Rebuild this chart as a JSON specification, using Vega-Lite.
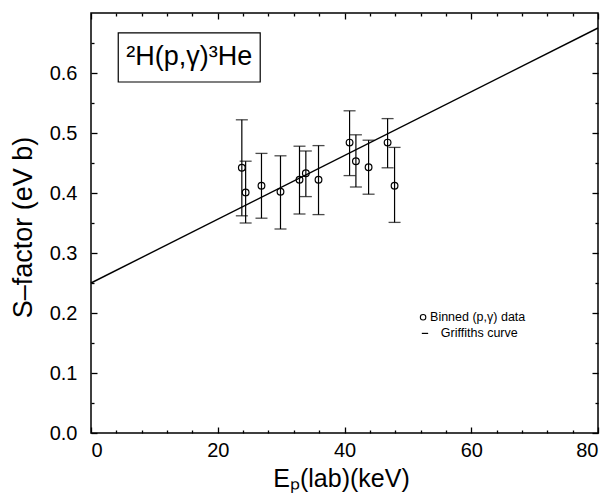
{
  "$schema": "https://vega.github.io/schema/vega-lite/v6.json",
  "width": 507,
  "height": 420,
  "autosize": "none",
  "padding": {"left": 91, "top": 13, "right": 12, "bottom": 63},
  "background": "white",
  "config": {
    "view": {"stroke": "black", "strokeWidth": 1.5},
    "font": "Liberation Sans",
    "axis": {
      "domain": false,
      "grid": false,
      "tickColor": "black",
      "tickWidth": 1.3,
      "labelColor": "black",
      "titleColor": "black",
      "labelFont": "Liberation Sans",
      "titleFont": "Liberation Sans",
      "labelFontSize": 20,
      "titleFontSize": 25,
      "titleFontWeight": "normal"
    }
  },
  "datasets": {
    "bins": [
      {"E": 23.8, "S": 0.442, "lo": 0.362, "hi": 0.522},
      {"E": 24.4, "S": 0.401, "lo": 0.350, "hi": 0.453},
      {"E": 26.9, "S": 0.412, "lo": 0.358, "hi": 0.466},
      {"E": 29.9, "S": 0.402, "lo": 0.340, "hi": 0.462},
      {"E": 32.9, "S": 0.422, "lo": 0.365, "hi": 0.478},
      {"E": 33.9, "S": 0.433, "lo": 0.394, "hi": 0.470},
      {"E": 35.9, "S": 0.422, "lo": 0.364, "hi": 0.479},
      {"E": 40.8, "S": 0.484, "lo": 0.429, "hi": 0.537},
      {"E": 41.8, "S": 0.453, "lo": 0.410, "hi": 0.497},
      {"E": 43.8, "S": 0.443, "lo": 0.398, "hi": 0.488},
      {"E": 46.8, "S": 0.484, "lo": 0.442, "hi": 0.524},
      {"E": 47.9, "S": 0.412, "lo": 0.351, "hi": 0.476}
    ],
    "curve": [
      {"E": 0, "S": 0.25},
      {"E": 80, "S": 0.675}
    ],
    "box": [
      {"x1": 4.3, "x2": 26.7, "y1": 0.585, "y2": 0.667, "xc": 15.5, "yc": 0.627, "label": "²H(p,γ)³He"}
    ],
    "legend": [
      {"sx": 52.4, "sx2": 52.4, "y": 0.193, "tx": 53.5, "kind": "point", "label": "Binned (p,γ) data"},
      {"sx": 52.2, "sx2": 53.2, "y": 0.166, "tx": 55.2, "kind": "line", "label": "Griffiths curve"}
    ]
  },
  "resolve": {"axis": {"x": "independent", "y": "independent"}},
  "layer": [
    {
      "data": {"name": "curve"},
      "mark": {"type": "line", "color": "black", "strokeWidth": 1.4},
      "encoding": {
        "x": {"field": "E", "type": "quantitative", "scale": {"domain": [0, 80], "nice": false},
          "axis": {"orient": "bottom", "values": [0, 20, 40, 60, 80], "tickSize": -6, "labelPadding": 13,
            "title": "Eₚ(lab)(keV)", "titleX": 250, "titleY": 53, "titleBaseline": "alphabetic", "titleAnchor": "middle"}},
        "y": {"field": "S", "type": "quantitative", "scale": {"domain": [0, 0.7], "nice": false, "zero": true},
          "axis": {"orient": "left", "values": [0, 0.1, 0.2, 0.3, 0.4, 0.5, 0.6], "format": ".1f", "tickSize": -6, "labelPadding": 20,
            "title": "S–factor (eV b)", "titleX": -68, "titleY": 214, "titleAngle": -90, "titleBaseline": "middle", "titleAlign": "center", "titleFontSize": 27}}
      }
    },
    {
      "data": {"name": "bins"},
      "mark": {"type": "rule", "color": "black", "strokeWidth": 1.2},
      "encoding": {
        "x": {"field": "E", "type": "quantitative",
          "axis": {"orient": "bottom", "values": [4, 8, 12, 16, 24, 28, 32, 36, 44, 48, 52, 56, 64, 68, 72, 76], "tickSize": -3, "labels": false, "title": null}},
        "y": {"field": "lo", "type": "quantitative",
          "axis": {"orient": "left", "values": [0.05, 0.15, 0.25, 0.35, 0.45, 0.55, 0.65], "tickSize": -3, "labels": false, "title": null}},
        "y2": {"field": "hi"}
      }
    },
    {
      "data": {"name": "bins"},
      "mark": {"type": "tick", "orient": "horizontal", "color": "black", "size": 12, "thickness": 1.3},
      "encoding": {
        "x": {"field": "E", "type": "quantitative",
          "axis": {"orient": "top", "values": [0, 20, 40, 60, 80], "tickSize": -6, "labels": false, "title": null}},
        "y": {"field": "lo", "type": "quantitative",
          "axis": {"orient": "right", "values": [0, 0.1, 0.2, 0.3, 0.4, 0.5, 0.6], "tickSize": -6, "labels": false, "title": null}}
      }
    },
    {
      "data": {"name": "bins"},
      "mark": {"type": "tick", "orient": "horizontal", "color": "black", "size": 12, "thickness": 1.3},
      "encoding": {
        "x": {"field": "E", "type": "quantitative",
          "axis": {"orient": "top", "values": [4, 8, 12, 16, 24, 28, 32, 36, 44, 48, 52, 56, 64, 68, 72, 76], "tickSize": -3, "labels": false, "title": null}},
        "y": {"field": "hi", "type": "quantitative",
          "axis": {"orient": "right", "values": [0.05, 0.15, 0.25, 0.35, 0.45, 0.55, 0.65], "tickSize": -3, "labels": false, "title": null}}
      }
    },
    {
      "data": {"name": "bins"},
      "mark": {"type": "point", "shape": "circle", "filled": false, "stroke": "black", "fill": "white", "fillOpacity": 0, "strokeWidth": 1.2, "size": 45, "opacity": 1},
      "encoding": {
        "x": {"field": "E", "type": "quantitative", "axis": null},
        "y": {"field": "S", "type": "quantitative", "axis": null}
      }
    },
    {
      "data": {"name": "box"},
      "mark": {"type": "rect", "fill": "white", "stroke": "black", "strokeWidth": 1.2},
      "encoding": {
        "x": {"field": "x1", "type": "quantitative", "axis": null},
        "x2": {"field": "x2"},
        "y": {"field": "y1", "type": "quantitative", "axis": null},
        "y2": {"field": "y2"}
      }
    },
    {
      "data": {"name": "box"},
      "mark": {"type": "text", "font": "Liberation Sans", "fontSize": 27, "align": "center", "baseline": "middle", "color": "black"},
      "encoding": {
        "x": {"field": "xc", "type": "quantitative", "axis": null},
        "y": {"field": "yc", "type": "quantitative", "axis": null},
        "text": {"field": "label"}
      }
    },
    {
      "data": {"name": "legend"},
      "transform": [{"filter": "datum.kind === 'point'"}],
      "mark": {"type": "point", "shape": "circle", "filled": false, "stroke": "black", "strokeWidth": 1.1, "size": 30, "opacity": 1},
      "encoding": {
        "x": {"field": "sx", "type": "quantitative", "axis": null},
        "y": {"field": "y", "type": "quantitative", "axis": null}
      }
    },
    {
      "data": {"name": "legend"},
      "transform": [{"filter": "datum.kind === 'line'"}],
      "mark": {"type": "rule", "color": "black", "strokeWidth": 1.2},
      "encoding": {
        "x": {"field": "sx", "type": "quantitative", "axis": null},
        "x2": {"field": "sx2"},
        "y": {"field": "y", "type": "quantitative", "axis": null}
      }
    },
    {
      "data": {"name": "legend"},
      "mark": {"type": "text", "font": "Liberation Sans", "fontSize": 12.5, "align": "left", "baseline": "middle", "color": "black"},
      "encoding": {
        "x": {"field": "tx", "type": "quantitative", "axis": null},
        "y": {"field": "y", "type": "quantitative", "axis": null},
        "text": {"field": "label"}
      }
    }
  ]
}
